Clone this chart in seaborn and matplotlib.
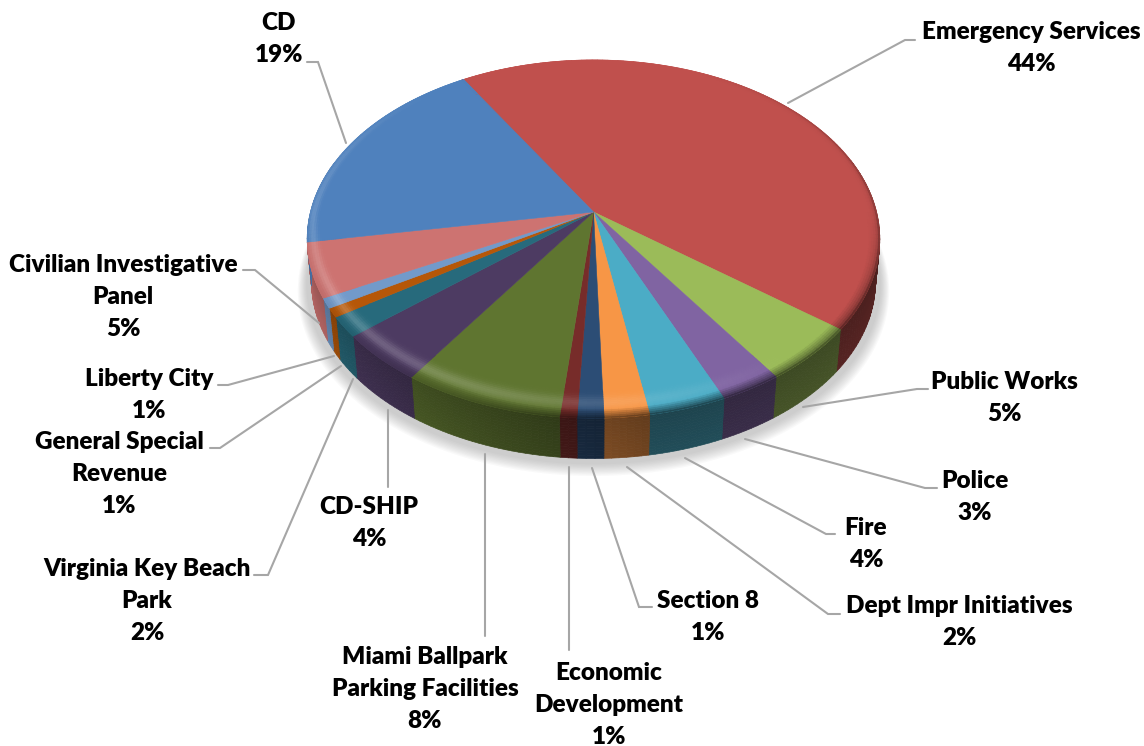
import numpy as np
import matplotlib
matplotlib.use("Agg")
import matplotlib.pyplot as plt
from matplotlib.collections import PolyCollection
import seaborn as sns

labels = ["Emergency Services", "Public Works", "Police", "Fire", "Dept Impr Initiatives",
          "Section 8", "Economic\nDevelopment", "Miami Ballpark\nParking Facilities", "CD-SHIP",
          "Virginia Key Beach\nPark", "General Special\nRevenue", "Liberty City",
          "Civilian Investigative\nPanel", "CD"]
values = [44.25, 5.0, 3.05, 3.8, 2.2, 1.3, 0.83, 7.9, 4.4, 1.8, 0.8, 0.9, 4.9, 19.0]
colors = ["#C0504D", "#9BBB59", "#8064A2", "#4BACC6", "#F79646", "#2C4D75", "#772C2A",
          "#5F7530", "#4D3B62", "#276A7C", "#B65708", "#729ACA", "#CD7371", "#4F81BD"]

# label centre and leader line, in pixels of the picture
label_xy = [(1031, 48), (1004, 398), (975, 497), (866, 544), (959, 622), (708, 617), (609, 705),
            (425, 689), (369, 523), (147, 601), (119, 474), (149, 395), (123, 297), (279, 39)]
leaders = [[(915, 40), (905, 40), (788, 103)],
           [(928, 389), (917, 389), (803, 407)],
           [(937, 488), (925, 488), (745, 439)],
           [(835, 534), (826, 534), (685, 458)],
           [(840, 614), (828, 614), (627, 467)],
           [(652, 607), (639, 607), (592, 468)],
           [(569, 650), (569, 467)],
           [(485, 636), (485, 454)],
           [(388, 487), (388, 410)],
           [(254, 575), (268, 575), (353, 379)],
           [(210, 448), (220, 448), (341, 366)],
           [(218, 385), (228, 385), (334, 356)],
           [(243, 270), (255, 270), (319, 323)],
           [(307, 62), (318, 62), (346, 143)]]

CX, CY, RX, RY, P, DEPTH = 593.5, 212, 283, 175, 0.151, 44
START = 121.7


def project(theta, r=1.0, depth=0.0):
    u = r * np.cos(theta)
    v = r * np.sin(theta)
    w = 1 + P * v
    return CX + RX * u / w, CY - RY * v / w + depth


def ring_quad(t0, t1, r0, r1, d0, d1):
    x0, y0 = project(t0, r0, d0)
    x1, y1 = project(t1, r0, d0)
    x2, y2 = project(t1, r1, d1)
    x3, y3 = project(t0, r1, d1)
    return [(x0, y0), (x1, y1), (x2, y2), (x3, y3)]


def mix(c, other, a):
    return tuple(np.clip(np.array(c) * (1 - a) + np.array(other) * a, 0, 1))


def wall_factor(t):
    return 0.45 + 0.42 * max(0, np.cos(t + np.radians(170)))


def highlight(t):
    return max(0, np.cos(t + np.radians(140)))


def rim_dark(t):
    return max(0, np.cos(t + np.radians(25)))


sns.set_theme(style="white")
plt.rcParams["font.family"] = ["Lato", "DejaVu Sans"]
palette = sns.color_palette(colors)

fig, ax = plt.subplots(figsize=(11.44, 7.46), dpi=100)
fig.subplots_adjust(0, 0, 1, 1)
ax.set_xlim(0, 1144)
ax.set_ylim(746, 0)
ax.axis("off")

# soft shadow under the pie
circle = np.linspace(0, 2 * np.pi, 361)
for k in range(10):
    sx, sy = project(circle, 1.0 + 0.0032 * (10 - k), DEPTH + 1 + 0.5 * (10 - k))
    ax.fill(sx, sy, color="#7f7f7f", alpha=0.045, lw=0, zorder=1)

wall_polys, wall_fills, rim_polys, rim_fills = [], [], [], []
wall_levels = np.linspace(1, 0, 16)
rim_levels = np.linspace(1.0, 0.88, 17)
edges = START - np.cumsum([0] + values) * 3.6

for i, c in enumerate(palette):
    steps = max(2, int((edges[i] - edges[i + 1]) / 1.2))
    ang = np.radians(np.linspace(edges[i], edges[i + 1], steps + 1))
    # full wedge first, the rim goes over it
    xs, ys = project(ang, 1.0)
    ax.fill(np.r_[CX, xs], np.r_[CY, ys], color=c, lw=0.4, zorder=3)
    for t0, t1 in zip(ang[:-1], ang[1:]):
        tm = (t0 + t1) / 2
        hl = highlight(tm)
        front = max(0, -np.sin(tm))
        if np.sin(tm) < 0.3:
            wf = wall_factor(tm)
            for a, b in zip(wall_levels[:-1], wall_levels[1:]):
                # a, b: 1 at the foot of the wall, 0 at the top
                f = wf * (0.88 + 0.12 * b)
                col = mix(c, (0, 0, 0), 1 - f)
                wall_polys.append(ring_quad(t0, t1, 1 - 0.015 * a, 1 - 0.015 * b, DEPTH * a, DEPTH * b))
                wall_fills.append(col)
        for a, b in zip(rim_levels[:-1], rim_levels[1:]):
            pos = (1 - (a + b) / 2) / 0.12  # 0 at the edge, 1 inside
            # highlight sits close to the edge on the left, further in at the front
            mid = 0.12 + 0.43 * front
            width = 0.1 + 0.12 * front
            lift = hl * 0.2 * np.exp(-((pos - mid) / width) ** 2)
            wall_col = mix(c, (0, 0, 0), 1 - wall_factor(tm))
            # front of the pie fades into the wall, the right side only has a dark line
            fade = front * np.clip((0.32 - pos) / 0.32, 0, 1) ** 0.8
            col = mix(mix(c, (1, 1, 1), lift), wall_col, fade)
            line = 0.5 * np.exp(-pos / 0.05) * rim_dark(tm)
            rim_polys.append(ring_quad(t0, t1, a, b, 0, 0))
            rim_fills.append(mix(col, (0, 0, 0), line))

ax.add_collection(PolyCollection(wall_polys, facecolors=wall_fills, edgecolors=wall_fills, linewidths=0.5, zorder=2))
ax.add_collection(PolyCollection(rim_polys, facecolors=rim_fills, edgecolors=rim_fills, linewidths=0.5, zorder=4))

# leader lines and labels
for pts, name, val, xy in zip(leaders, labels, values, label_xy):
    lx, ly = zip(*pts)
    ax.plot(lx, ly, color="#a6a6a6", lw=1.5, solid_joinstyle="miter", zorder=5)
    ax.text(xy[0], xy[1], f"{name}\n{round(val)}%", ha="center", va="center", multialignment="center",
            fontsize=17.5, fontweight="heavy", color="black", linespacing=1.55, zorder=6)

fig.savefig("out.png", dpi=100)
